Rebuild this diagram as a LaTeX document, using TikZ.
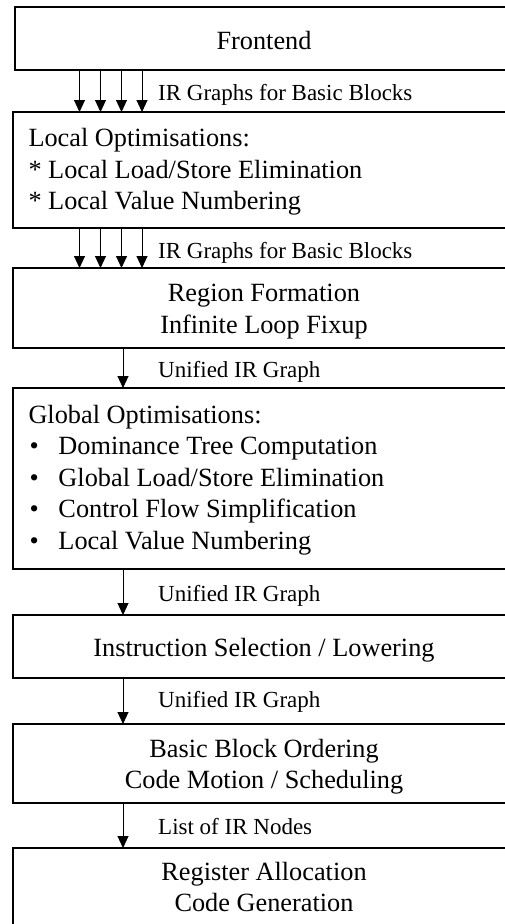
\documentclass[tikz,border=0pt]{standalone}
\usepackage{fontspec}
\setmainfont{Liberation Serif}
\usetikzlibrary{arrows.meta}

% stacked lines whose first baseline is the box baseline
\newcommand{\linesC}[1]{\begin{tabular}[t]{@{}c@{}}#1\end{tabular}}
\newcommand{\linesL}[1]{\begin{tabular}[t]{@{}l@{}}#1\end{tabular}}
\newcommand{\itm}{\makebox[30pt][l]{\hspace{1pt}\textbullet}}

\tikzset{
  stage/.style={draw=black, line width=2pt, outer sep=0pt, rectangle,
    inner sep=0pt, anchor=north west, minimum width=540pt},
  stagetext/.style={font=\fontsize{26.3}{31.5}\selectfont, inner sep=0pt, anchor=base},
  stagetextl/.style={stagetext, anchor=base west},
  flow/.style={line width=1pt, -{Triangle[length=12pt,width=11pt]}},
  flowlabel/.style={font=\fontsize{23}{27}\selectfont, anchor=base west, inner sep=0pt}
}

\begin{document}
\begin{tikzpicture}[x=1pt, y=-1pt]
  \useasboundingbox (0,0) rectangle (505,924);
  \clip (0,0) rectangle (505,924);

  % pipeline stage frames (they run past the right and bottom edges)
  \node[stage, minimum height=63pt]  (fe)   at (14.5,7)  {};
  \node[stage, minimum height=116pt] (loc)  at (12.5,112) {};
  \node[stage, minimum height=80pt]  (reg)  at (12.5,268) {};
  \node[stage, minimum height=181pt] (glo)  at (12.5,388) {};
  \node[stage, minimum height=63pt]  (isel) at (12.5,615) {};
  \node[stage, minimum height=79pt]  (bbo)  at (12.5,724) {};
  \node[stage, minimum height=82pt]  (ra)   at (12.5,848) {};

  % stage contents
  \node[stagetext] (fe-t) at (264,49.3) {Frontend};
  \node[stagetextl] (loc-t) at (28.3,146.7) {\linesL{%
    Local Optimisations:\\ {*} Local Load/Store Elimination\\ {*} Local Value Numbering}};
  \node[stagetext] (reg-t) at (264,301.7) {\linesC{Region Formation\\ Infinite Loop Fixup}};
  \node[stagetextl] (glo-t) at (28.3,423.3) {\linesL{%
    Global Optimisations:\\
    \itm Dominance Tree Computation\\
    \itm Global Load/Store Elimination\\
    \itm Control Flow Simplification\\
    \itm Local Value Numbering}};
  \node[stagetext] (isel-t) at (264,656) {Instruction Selection / Lowering};
  \node[stagetext] (bbo-t) at (264,757.3) {\linesC{Basic Block Ordering\\ Code Motion / Scheduling}};
  \node[stagetext] (ra-t) at (264,880) {\linesC{Register Allocation\\ Code Generation}};

  % arrow columns
  \coordinate (c1) at (79.5,0);
  \coordinate (c2) at (100.5,0);
  \coordinate (c3) at (121.5,0);
  \coordinate (c4) at (142,0);
  \coordinate (cs) at (123,0);

  % per-block graphs
  \foreach \c in {c1,c2,c3,c4} {
    \draw[flow] (fe.south -| \c) -- (loc.north -| \c);
    \draw[flow] (loc.south -| \c) -- (reg.north -| \c);
  }
  % single graph hand-offs
  \draw[flow] (reg.south -| cs) -- (glo.north -| cs);
  \draw[flow] (glo.south -| cs) -- (isel.north -| cs);
  \draw[flow] (isel.south -| cs) -- (bbo.north -| cs);
  \draw[flow] (bbo.south -| cs) -- (ra.north -| cs);

  % labels on the hand-offs
  \node[flowlabel] (l1) at (158,100.7) {IR Graphs for Basic Blocks};
  \node[flowlabel] (l2) at (158,258.3) {IR Graphs for Basic Blocks};
  \node[flowlabel] (l3) at (158,377.3) {Unified IR Graph};
  \node[flowlabel] (l4) at (158,601) {Unified IR Graph};
  \node[flowlabel] (l5) at (158,707.3) {Unified IR Graph};
  \node[flowlabel] (l6) at (158,834) {List of IR Nodes};
\end{tikzpicture}
\end{document}
